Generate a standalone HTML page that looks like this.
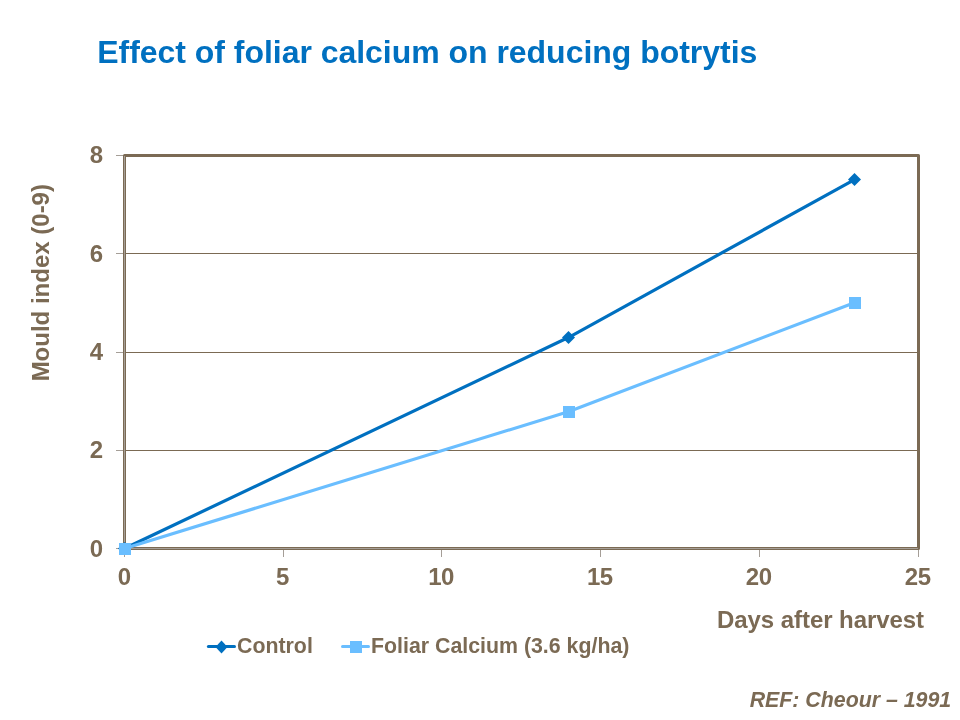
<!DOCTYPE html>
<html lang="en">
<head>
<meta charset="utf-8">
<title>Effect of foliar calcium on reducing botrytis</title>
<style>
html,body{margin:0;padding:0;background:#fff;}
body{width:960px;height:720px;overflow:hidden;position:relative;font-family:"Liberation Sans",sans-serif;}
svg{position:absolute;left:0;top:0;display:block;}
text{font-family:"Liberation Sans",sans-serif;font-weight:bold;}
.t{fill:#0070C0;font-size:32px;}
.ax{fill:#7B6A54;font-size:24px;}
.lb{fill:#7B6A54;font-size:24px;}
.lg{fill:#7B6A54;font-size:21.33px;}
.rf{fill:#7B6A54;font-size:21.33px;font-style:italic;}
</style>
</head>
<body>
<svg width="960" height="720" viewBox="0 0 960 720">
<rect width="960" height="720" fill="#fff"/>
<text class="t" x="97.2" y="63" letter-spacing="-0.03">Effect of foliar calcium on reducing botrytis</text>

<!-- gridlines -->
<g stroke="#7B6A54" stroke-width="1" fill="none">
<line x1="124" y1="253.5" x2="918" y2="253.5"/>
<line x1="124" y1="352.5" x2="918" y2="352.5"/>
<line x1="124" y1="450.5" x2="918" y2="450.5"/>
</g>
<!-- ticks -->
<g stroke="#A59E97" stroke-width="1" fill="none">
<line x1="116" y1="155.5" x2="124" y2="155.5"/>
<line x1="116" y1="253.5" x2="124" y2="253.5"/>
<line x1="116" y1="352.5" x2="124" y2="352.5"/>
<line x1="116" y1="450.5" x2="124" y2="450.5"/>
<line x1="116" y1="548.5" x2="124" y2="548.5"/>
<line x1="124.5" y1="549" x2="124.5" y2="557"/>
<line x1="283.5" y1="549" x2="283.5" y2="557"/>
<line x1="441.5" y1="549" x2="441.5" y2="557"/>
<line x1="600.5" y1="549" x2="600.5" y2="557"/>
<line x1="759.5" y1="549" x2="759.5" y2="557"/>
<line x1="918.5" y1="549" x2="918.5" y2="557"/>
</g>
<!-- plot border -->
<rect x="124.5" y="155.5" width="794" height="393" fill="none" stroke="#7B6A54" stroke-width="3" stroke-linejoin="round"/>
<!-- axis lines (lighter centre) -->
<g stroke="#A59E96" stroke-width="1" fill="none">
<line x1="124.5" y1="156" x2="124.5" y2="548"/>
<line x1="125" y1="548.5" x2="918" y2="548.5"/>
</g>

<!-- series -->
<polyline points="124.5,548.5 568.8,337.3 854.5,179.6" fill="none" stroke="#0070C0" stroke-width="3.2" stroke-linejoin="round"/>
<polyline points="124.5,548.5 569,411.5 855,302.4" fill="none" stroke="#6ABEFF" stroke-width="3.2" stroke-linejoin="round"/>
<g fill="#0070C0">
<path d="M124.5 542 l6.5 6.5 l-6.5 6.5 l-6.5 -6.5Z"/>
<path d="M568.5 330.9 l6.5 6.5 l-6.5 6.5 l-6.5 -6.5Z"/>
<path d="M854.5 173 l6.5 6.5 l-6.5 6.5 l-6.5 -6.5Z"/>
</g>
<g fill="#6ABEFF">
<rect x="119" y="543" width="12" height="12"/>
<rect x="563" y="406" width="12" height="12"/>
<rect x="849" y="297" width="12" height="12"/>
</g>

<!-- y tick labels -->
<g class="ax" text-anchor="end">
<text x="103" y="163">8</text>
<text x="103" y="262">6</text>
<text x="103" y="360">4</text>
<text x="103" y="458">2</text>
<text x="103" y="557">0</text>
</g>
<!-- x tick labels -->
<g class="ax">
<text x="117.8" y="584.5">0</text>
<text x="276" y="584.5">5</text>
<text x="428.2 441.1" y="584.5">10</text>
<text x="587 599.8" y="584.5">15</text>
<text x="745.8 758.7" y="584.5">20</text>
<text x="904.7 917.7" y="584.5">25</text>
</g>
<text class="lb" transform="translate(48.5,282.7) rotate(-90)" text-anchor="middle">Mould index (0-9)</text>
<text class="lb" x="717" y="627.5" letter-spacing="-0.06">Days after harvest</text>

<!-- legend -->
<line x1="208.4" y1="646.5" x2="234.5" y2="646.5" stroke="#0070C0" stroke-width="3" stroke-linecap="round"/>
<path d="M221.5 640.5 l6 6.5 l-6 6.5 l-6 -6.5Z" fill="#0070C0"/>
<text class="lg" x="237" y="652.5">Control</text>
<line x1="342.5" y1="646.5" x2="368.5" y2="646.5" stroke="#6ABEFF" stroke-width="3" stroke-linecap="round"/>
<rect x="350" y="641" width="12" height="12" fill="#6ABEFF"/>
<text class="lg" x="371" y="652.5">Foliar Calcium (3.6 kg/ha)</text>

<text class="rf" x="951.2" y="706.7" text-anchor="end">REF: Cheour – 1991</text>
</svg>
</body>
</html>
